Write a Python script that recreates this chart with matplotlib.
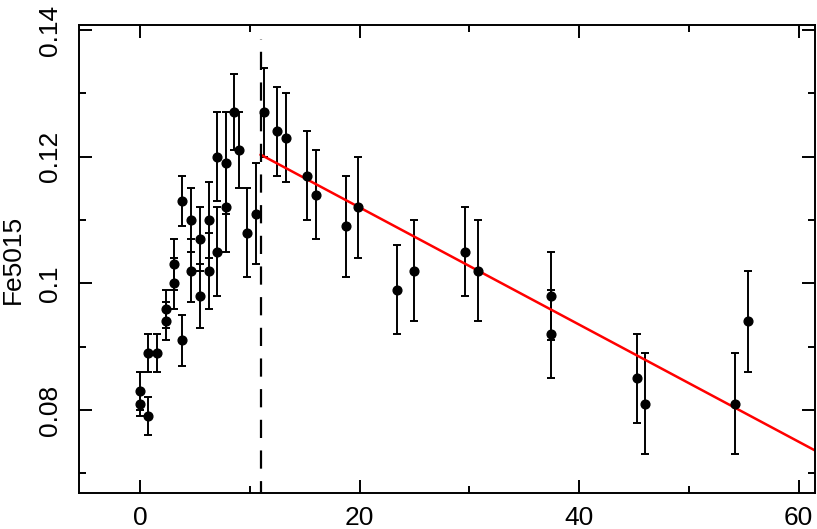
import matplotlib
matplotlib.use("Agg")
import matplotlib.pyplot as plt
import numpy as np
from matplotlib.ticker import MultipleLocator

plt.rcParams["font.family"] = ["Liberation Sans", "DejaVu Sans"]

# measured points (x, Fe5015, error)
xs = [0.0, 0.0, 0.77, 0.77, 1.58, 2.34, 2.34, 3.10, 3.10, 3.87, 3.87,
      4.64, 4.64, 5.46, 5.46, 6.26, 6.26, 7.01, 7.01, 7.80, 7.80,
      8.56, 8.99, 9.77, 10.56, 11.32, 12.48, 13.27, 15.24, 16.03,
      18.73, 19.88, 23.41, 24.98, 29.63, 30.78, 37.43, 37.43,
      45.24, 45.99, 54.22, 55.37]
fe = [0.083, 0.081, 0.079, 0.089, 0.089, 0.094, 0.096, 0.100, 0.103, 0.091, 0.113,
      0.110, 0.102, 0.107, 0.098, 0.110, 0.102, 0.120, 0.105, 0.119, 0.112,
      0.127, 0.121, 0.108, 0.111, 0.127, 0.124, 0.123, 0.117, 0.114,
      0.109, 0.112, 0.099, 0.102, 0.105, 0.102, 0.098, 0.092,
      0.085, 0.081, 0.081, 0.094]
fe_err = [0.003, 0.002, 0.003, 0.003, 0.003, 0.003, 0.003, 0.004, 0.004, 0.004, 0.004,
          0.005, 0.005, 0.005, 0.005, 0.006, 0.006, 0.007, 0.007, 0.008, 0.007,
          0.006, 0.006, 0.007, 0.008, 0.007, 0.007, 0.007, 0.007, 0.007,
          0.008, 0.008, 0.007, 0.008, 0.007, 0.008, 0.007, 0.007,
          0.007, 0.008, 0.008, 0.008]

# break point and linear fit after it
x_break = 11.0
break_top = 0.1386
fit_range = [11.0, 62.0]
fit_intercept = 0.1305
fit_slope = -0.000925

fig = plt.figure(figsize=(8.17, 5.29), dpi=100)
ax = fig.add_axes([0.0967, 0.068, 0.901, 0.8847])

ax.errorbar(xs, fe, yerr=fe_err, fmt="o", color="black", ecolor="black",
            markersize=6.3, elinewidth=1.4, capsize=3.2, capthick=1.4)

fx = np.array(fit_range)
ax.plot(fx, fit_intercept + fit_slope * fx, color="red", lw=1.8)

ax.plot([x_break, x_break], [0.06, break_top], color="black", lw=1.6,
        linestyle=(0, (8.2, 5.6)))

ax.set_xlim(-5.55, 61.5)
ax.set_ylim(0.0669, 0.1408)
ax.xaxis.set_major_locator(MultipleLocator(20))
ax.xaxis.set_minor_locator(MultipleLocator(10))
ax.yaxis.set_minor_locator(MultipleLocator(0.01))
ax.set_yticks([0.08, 0.1, 0.12, 0.14])
ax.set_yticklabels(["0.08", "0.1", "0.12", "0.14"], rotation=90, va="center")

ax.tick_params(which="both", direction="in", top=True, right=True,
               width=1.4, labelsize=19, colors="black")
ax.tick_params(which="major", length=9.5)
ax.tick_params(which="minor", length=5)
ax.tick_params(axis="x", pad=9)
ax.tick_params(axis="y", pad=12)
for s in ax.spines.values():
    s.set_linewidth(1.4)

ax.set_ylabel("Fe5015", fontsize=19)
ax.yaxis.set_label_coords(-0.074, 0.5)

fig.savefig("out.png", dpi=100)
